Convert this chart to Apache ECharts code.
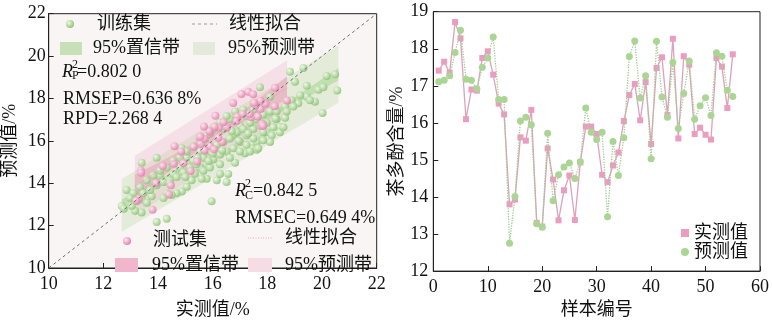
<!DOCTYPE html>
<html><head><meta charset="utf-8">
<script src="https://cdn.jsdelivr.net/npm/echarts@6/dist/echarts.min.js"></script>
<style>html,body{margin:0;padding:0;background:#fff}#c{width:772px;height:324px}</style>
</head><body><div id="c"></div>
<script>
// ---------- data ----------
const sampleNo = [1,2,3,4,5,6,7,8,9,10,11,12,13,14,15,16,17,18,19,20,21,22,23,24,25,26,27,28,29,30,31,32,33,34,35,36,37,38,39,40,41,42,43,44,45,46,47,48,49,50,51,52,53,54,55];
const measured = [17.41,17.65,17.35,18.72,18.28,16.10,16.90,16.87,17.75,17.93,17.30,16.52,16.23,13.80,13.93,15.61,15.52,16.35,13.30,13.20,15.31,14.47,13.37,14.18,14.58,13.38,14.93,15.90,15.90,15.70,14.60,14.40,14.85,15.20,16.05,16.75,17.05,16.07,17.10,15.43,17.48,17.77,16.21,18.27,15.58,17.80,17.57,15.70,15.87,15.68,15.55,17.75,17.52,16.40,17.85];
const predicted = [17.11,17.15,17.27,17.90,18.50,17.18,17.15,16.92,17.50,17.75,18.32,16.63,16.63,12.75,14.01,16.05,16.15,15.95,13.28,13.18,15.72,13.90,14.60,14.81,14.92,14.50,14.95,16.40,15.75,15.55,15.75,13.47,15.50,14.58,15.60,17.79,18.21,16.67,17.27,15.03,18.20,16.70,16.15,17.63,15.85,16.79,17.67,16.10,16.46,16.68,16.20,17.89,17.80,16.88,16.71];

const trainMeasured = [18.83,19.32,19.01,19.44,19.87,20.17,20.48,20.56,20.05,20.02,19.74,19.44,19.20,19.13,19.56,18.89,18.65,18.65,18.46,18.22,18.34,17.98,17.98,17.79,17.61,17.43,17.61,17.18,16.82,16.51,15.96,16.15,15.78,15.60,15.23,15.05,14.87,14.68,14.50,14.32,14.20,13.95,14.32,13.40,13.16,12.85,12.67,13.04,13.40,13.59,13.77,13.95,13.40,14.07,14.32,14.56,14.80,14.87,15.05,15.29,15.54,15.72,15.90,16.15,16.39,16.63,16.76,17.00,17.24,17.49,17.73,17.49,17.24,17.00,16.76,16.51,16.27,16.02,15.78,15.54,15.66,15.90,16.15,16.39,16.63,16.88,17.12,17.37,17.61,17.85,18.10,18.10,17.73,17.49,17.12,16.82,16.51,16.27,16.02,15.78,15.54,15.29,15.05,14.80,14.56,14.32,14.07,13.83,13.59,13.34,13.10,12.98,13.22,13.46,13.71,13.95,14.20,14.44,14.68,14.93,15.17,15.41,15.66,15.90,16.27,16.63,17.00,17.24,17.49,17.85,18.16,18.46,18.59,18.34,18.71,18.95,18.10,17.85,17.37,17.67,16.57,16.27,14.43,15.00,15.35,15.85,16.35,16.95,17.30,18.30,16.00,15.45,16.70,17.85,12.75];
const trainPredicted = [19.26,19.44,18.79,18.60,18.41,19.06,19.14,18.38,18.53,17.32,17.85,18.08,18.15,17.77,17.92,17.92,17.62,17.09,16.64,16.64,17.02,16.86,16.41,16.26,15.95,15.65,15.58,15.42,14.97,14.06,13.15,14.14,14.21,14.21,14.14,13.83,13.61,13.53,13.45,13.53,13.30,12.17,12.32,12.62,12.70,13.68,12.92,12.92,13.23,13.08,13.38,15.20,14.97,14.36,14.14,14.44,14.74,15.65,15.20,15.05,15.50,15.95,16.33,16.71,16.56,17.02,16.26,16.71,17.17,17.47,17.62,16.56,16.26,15.95,15.65,15.50,15.35,15.12,14.89,14.74,15.20,15.50,15.80,15.95,16.11,16.41,16.56,16.86,17.02,17.24,17.39,18.08,18.53,17.77,17.47,17.39,17.17,16.86,16.56,16.26,15.95,15.73,15.50,15.20,15.05,14.74,14.59,14.36,14.14,13.83,13.53,13.30,13.15,13.53,13.68,13.91,14.06,14.14,14.29,14.52,14.74,14.89,14.59,14.74,14.89,15.20,15.50,15.80,16.11,16.41,16.26,16.41,16.64,17.39,17.39,17.62,15.95,16.03,15.50,15.65,14.44,14.44,14.00,14.30,14.45,15.05,15.55,16.00,16.35,17.05,15.40,15.20,16.45,16.80,12.80];

// bands
const trainPredX = [12.67, 20.6];
const trainPredLo = [11.7, 17.8];
const trainPredHi = [14.2, 20.5];
const trainConfX = [12.67, 14.6, 16.6, 18.6, 20.6];
const trainConfLo = [12.67, 14.34, 15.92, 17.44, 18.86];
const trainConfHi = [13.23, 14.58, 16.12, 17.72, 19.42];
const testPredX = [13.15, 18.72];
const testPredLo = [12.45, 17.2];
const testPredHi = [15.3, 19.8];
const testConfX = [13.15, 14.5, 16.0, 17.4, 18.72];
const testConfLo = [13.3, 14.66, 16.01, 17.1, 17.95];
const testConfHi = [14.4, 15.3, 16.45, 17.7, 19.05];
const diagLine = [[10, 10], [22, 22]];
const testFitLine = [[13.15, 13.85], [18.72, 18.5]];

const xTicksLeft = [10, 22, 2];
const yTicksLeft = [10, 22, 2];
const xTicksRight = [0, 60, 10];
const yTicksRight = [12, 19, 1];

// ---------- chart ----------
const FONT = '"Liberation Serif","Times New Roman","Noto Sans CJK SC",serif';
const chart = echarts.init(document.getElementById('c'), null, {renderer: 'canvas'});
const G = echarts.graphic;
const greenBall = () => new G.RadialGradient(0.35, 0.35, 0.7, [{offset: 0, color: '#eef8e6'}, {offset: 1, color: '#8cc275'}]);
const pinkBall = () => new G.RadialGradient(0.35, 0.35, 0.7, [{offset: 0, color: '#fce8f1'}, {offset: 1, color: '#e27ea9'}]);

function axis(t, gi, name, gap, lm, rot) {
  return {
    type: 'value', gridIndex: gi, min: t[0], max: t[1], interval: t[2],
    name: name, nameLocation: 'middle', nameGap: gap, nameRotate: rot,
    nameTextStyle: {fontFamily: FONT, fontSize: 18, color: '#111'},
    axisLine: {show: true, onZero: false, lineStyle: {color: '#222', width: 1}},
    axisTick: {show: true, inside: true, length: 5, lineStyle: {color: '#222'}},
    axisLabel: {fontFamily: FONT, fontSize: 18, color: '#111', margin: lm},
    splitLine: {show: false}
  };
}
function band(xs, lo, hi, color) {
  return {
    type: 'custom', xAxisIndex: 0, yAxisIndex: 0, silent: true, z: 1, data: [[16, 16]],
    renderItem: (params, api) => {
      const pts = xs.map((x, i) => api.coord([x, hi[i]]))
        .concat(xs.map((x, i) => api.coord([x, lo[i]])).reverse());
      return {type: 'polygon', shape: {points: pts}, style: {fill: color}};
    }
  };
}
function txt(text, x, y, extra) {
  return Object.assign({type: 'text', x: x, y: y, z: 100,
    style: Object.assign({text: text, fontFamily: FONT, fontSize: 18, fill: '#111', verticalAlign: 'middle', align: 'left'}, extra || {})});
}
const graphics = [
  {type: 'circle', z: 100, shape: {cx: 70, cy: 24, r: 4}, style: {fill: greenBall()}},
  txt('训练集', 97, 24),
  {type: 'line', z: 100, shape: {x1: 192, y1: 24, x2: 217, y2: 24}, style: {stroke: '#9a9a9a', lineWidth: 1.2, lineDash: [3, 3]}},
  txt('线性拟合', 229, 24),
  {type: 'rect', z: 100, shape: {x: 60, y: 42, width: 22, height: 13}, style: {fill: '#c8e0b8'}},
  txt('95%置信带', 93, 48),
  {type: 'rect', z: 100, shape: {x: 193, y: 42, width: 22, height: 13}, style: {fill: '#e4eadb'}},
  txt('95%预测带', 228, 48),
  txt('R', 62, 72, {fontStyle: 'italic'}),
  txt('2', 72, 65, {fontSize: 12}),
  txt('P', 72, 76, {fontSize: 12}),
  txt('=0.802 0', 77, 72),
  txt('RMSEP=0.636 8%', 63, 99),
  txt('RPD=2.268 4', 63, 119),
  txt('R', 235, 191, {fontStyle: 'italic'}),
  txt('2', 245, 184, {fontSize: 12}),
  txt('C', 245, 196, {fontSize: 12}),
  txt('=0.842 5', 253, 191),
  txt('RMSEC=0.649 4%', 235, 218),
  {type: 'circle', z: 100, shape: {cx: 127, cy: 241, r: 4}, style: {fill: pinkBall()}},
  txt('测试集', 153, 240),
  {type: 'line', z: 100, shape: {x1: 248, y1: 238, x2: 272, y2: 238}, style: {stroke: '#eaa6c2', lineWidth: 1.2, lineDash: [1, 1.5]}},
  txt('线性拟合', 285, 238),
  {type: 'rect', z: 100, shape: {x: 115, y: 258, width: 23, height: 14}, style: {fill: '#f0b6cb'}},
  txt('95%置信带', 152, 265),
  {type: 'rect', z: 100, shape: {x: 248, y: 258, width: 24, height: 14}, style: {fill: '#f6dde5'}},
  txt('95%预测带', 285, 265)
];

const option = {
  animation: false,
  backgroundColor: '#fff',
  grid: [
    {left: 48.7, top: 13.7, width: 328, height: 263.3, show: true, backgroundColor: '#f9f5f4', borderColor: '#222', borderWidth: 1},
    {left: 433.3, top: 11.7, width: 328.4, height: 264.3, show: true, backgroundColor: '#fff', borderColor: '#222', borderWidth: 1}
  ],
  xAxis: [axis(xTicksLeft, 0, '实测值/%', 33, 7), axis(xTicksRight, 1, '样本编号', 26, 7)],
  yAxis: [axis(yTicksLeft, 0, '预测值/%', 29, 3, 90), axis(yTicksRight, 1, '茶多酚含量/%', 26, 5, 90)],
  legend: {
    data: [{name: '实测值', icon: 'rect'}, {name: '预测值', icon: 'circle'}],
    orient: 'vertical', left: 676, top: 219, itemWidth: 8, itemHeight: 8, itemGap: 1,
    textStyle: {fontFamily: FONT, fontSize: 18, color: '#111', lineHeight: 18}, selectedMode: false
  },
  graphic: graphics,
  series: [
    band(trainPredX, trainPredLo, trainPredHi, 'rgba(190,222,170,0.36)'),
    band(testPredX, testPredLo, testPredHi, 'rgba(240,165,195,0.25)'),
    band(trainConfX, trainConfLo, trainConfHi, 'rgba(160,210,135,0.5)'),
    band(testConfX, testConfLo, testConfHi, 'rgba(235,140,175,0.38)'),
    {type: 'scatter', xAxisIndex: 0, yAxisIndex: 0, z: 2, symbolSize: 8, silent: true,
      data: trainMeasured.map((x, i) => [x, trainPredicted[i]]),
      itemStyle: {color: greenBall(), opacity: 0.9}},
    {type: 'scatter', xAxisIndex: 0, yAxisIndex: 0, z: 2, symbolSize: 8, silent: true,
      data: measured.map((x, i) => [x, predicted[i]]),
      itemStyle: {color: pinkBall(), opacity: 0.9}},
    {type: 'line', xAxisIndex: 0, yAxisIndex: 0, z: 3, symbol: 'none', silent: true, data: testFitLine,
      lineStyle: {color: '#e79bbb', width: 1, type: 'dotted'}},
    {type: 'line', xAxisIndex: 0, yAxisIndex: 0, z: 3, symbol: 'none', silent: true, data: diagLine,
      lineStyle: {color: '#6f6f6f', width: 1, type: [3, 3]}},
    {name: '实测值', type: 'line', xAxisIndex: 1, yAxisIndex: 1, z: 2, symbol: 'rect', symbolSize: 6,
      data: sampleNo.map((x, i) => [x, measured[i]]),
      lineStyle: {color: '#dba2b8', width: 1.3}, itemStyle: {color: '#eb9dbf'}},
    {name: '预测值', type: 'line', xAxisIndex: 1, yAxisIndex: 1, z: 3, symbol: 'circle', symbolSize: 7,
      data: sampleNo.map((x, i) => [x, predicted[i]]),
      lineStyle: {color: '#a5c994', width: 1.3, type: 'dotted'}, itemStyle: {color: '#abd594'}}
  ]
};
chart.setOption(option);
</script>
</body></html>
